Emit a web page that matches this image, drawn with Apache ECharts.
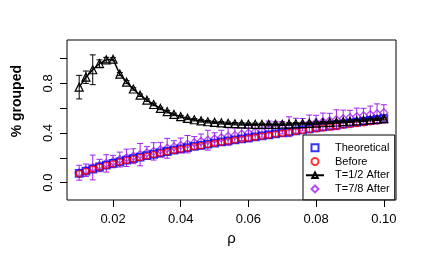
<!DOCTYPE html>
<html>
<head>
<meta charset="utf-8">
<script src="https://cdn.jsdelivr.net/npm/echarts@6/dist/echarts.min.js"></script>
<style>html,body{margin:0;padding:0;background:#fff}#c{width:436px;height:269px}</style>
</head>
<body>
<div id="c"></div>
<script>
const rho = [0.010,0.012,0.014,0.016,0.018,0.020,0.022,0.024,0.026,0.028,0.030,0.032,0.034,0.036,0.038,0.040,0.042,0.044,0.046,0.048,0.050,0.052,0.054,0.056,0.058,0.060,0.062,0.064,0.066,0.068,0.070,0.072,0.074,0.076,0.078,0.080,0.082,0.084,0.086,0.088,0.090,0.092,0.094,0.096,0.098,0.100];
const theoretical = [0.075,0.093,0.110,0.126,0.141,0.155,0.168,0.181,0.193,0.205,0.217,0.229,0.240,0.251,0.262,0.272,0.282,0.292,0.301,0.310,0.319,0.328,0.337,0.345,0.353,0.361,0.369,0.377,0.385,0.393,0.401,0.409,0.417,0.425,0.433,0.441,0.449,0.456,0.464,0.471,0.479,0.486,0.493,0.501,0.508,0.515];
const before = [0.072,0.091,0.108,0.125,0.139,0.152,0.167,0.179,0.190,0.203,0.214,0.227,0.238,0.249,0.259,0.270,0.279,0.290,0.298,0.308,0.316,0.326,0.334,0.343,0.350,0.359,0.366,0.375,0.382,0.391,0.398,0.406,0.412,0.420,0.426,0.434,0.440,0.447,0.453,0.462,0.468,0.476,0.483,0.490,0.497,0.505];
const halfAfter = [0.770,0.850,0.910,0.960,0.990,0.995,0.875,0.810,0.755,0.705,0.665,0.630,0.598,0.572,0.550,0.532,0.518,0.507,0.498,0.491,0.486,0.482,0.478,0.475,0.473,0.471,0.470,0.469,0.469,0.470,0.471,0.472,0.474,0.476,0.478,0.480,0.483,0.486,0.489,0.492,0.495,0.499,0.503,0.507,0.511,0.516];
const halfAfterErr = [0.095,0.050,0.120,0.030,0.020,0.012,0.012,0.012,0.010,0.010,0.010,0.010,0.010,0.010,0.010,0.010,0.010,0.010,0.010,0.010,0.010,0.010,0.010,0.010,0.010,0.010,0.010,0.010,0.010,0.010,0.010,0.010,0.010,0.010,0.010,0.010,0.010,0.010,0.010,0.010,0.010,0.010,0.010,0.010,0.010,0.010];
const sevenAfter = [0.080,0.100,0.122,0.138,0.155,0.170,0.186,0.200,0.213,0.226,0.240,0.252,0.265,0.277,0.288,0.300,0.310,0.321,0.332,0.342,0.352,0.362,0.372,0.381,0.390,0.399,0.408,0.417,0.426,0.434,0.443,0.451,0.459,0.467,0.475,0.483,0.491,0.499,0.507,0.515,0.523,0.531,0.539,0.547,0.555,0.563];
const sevenAfterErr = [0.060,0.050,0.100,0.050,0.070,0.050,0.060,0.070,0.060,0.090,0.050,0.070,0.060,0.080,0.050,0.060,0.070,0.050,0.060,0.080,0.050,0.060,0.070,0.060,0.050,0.070,0.060,0.050,0.070,0.060,0.050,0.080,0.060,0.050,0.070,0.060,0.070,0.060,0.080,0.070,0.060,0.070,0.060,0.070,0.080,0.065];
const xTicks = [0.02,0.04,0.06,0.08,0.10];
const yTicks = [0,0.2,0.4,0.6,0.8,1.0];
const yLabels = [0,0.4,0.8];
const names = ['Theoretical','Before','T=1/2 After','T=7/8 After'];

const FONT = '"Liberation Sans", Arial, Helvetica, sans-serif';
const BLUE = '#0000FF', RED = '#FF0000', PURPLE = '#A020F0', BLACK = '#000000';

function pts(ys){ return rho.map((x,i)=>[x, ys[i]]); }
function errs(ys, e){ return rho.map((x,i)=>[x, ys[i]-e[i], ys[i]+e[i]]); }
function errRender(color){
  return function(params, api){
    const lo = api.coord([api.value(0), api.value(1)]);
    const hi = api.coord([api.value(0), api.value(2)]);
    const w = 3;
    const st = {stroke: color, lineWidth: 1};
    return {type:'group', children:[
      {type:'line', shape:{x1:lo[0], y1:lo[1], x2:hi[0], y2:hi[1]}, style:st},
      {type:'line', shape:{x1:lo[0]-w, y1:lo[1], x2:lo[0]+w, y2:lo[1]}, style:st},
      {type:'line', shape:{x1:hi[0]-w, y1:hi[1], x2:hi[0]+w, y2:hi[1]}, style:st}
    ]};
  };
}

const ICON_SQUARE = 'path://M0,0L10,0L10,10L0,10Z';
const ICON_CIRCLE = 'path://M5,0A5,5,0,1,1,5,10A5,5,0,1,1,5,0Z';
const ICON_DIAMOND = 'path://M5,0L10,5L5,10L0,5Z';

const chart = echarts.init(document.getElementById('c'));
chart.setOption({
  animation: false,
  backgroundColor: '#fff',
  textStyle: {fontFamily: FONT},
  grid: {left: 67, right: 40, top: 40, bottom: 69, show: true, borderColor: BLACK, borderWidth: 1, backgroundColor: 'transparent'},
  xAxis: {
    type: 'value', min: 0.0064, max: 0.1036,
    name: 'ρ', nameLocation: 'middle', nameGap: 28,
    nameTextStyle: {fontSize: 15, color: BLACK, fontFamily: FONT},
    axisLine: {show: false, onZero: false},
    axisTick: {show: true, length: 7, lineStyle: {color: BLACK}, customValues: xTicks},
    axisLabel: {fontSize: 13, color: BLACK, margin: 13, customValues: xTicks, formatter: v => v.toFixed(2), fontFamily: FONT},
    splitLine: {show: false}
  },
  yAxis: {
    type: 'value', min: -0.14, max: 1.15,
    axisLine: {show: false, onZero: false},
    axisTick: {show: true, length: 7, lineStyle: {color: BLACK}, customValues: yTicks},
    axisLabel: {fontSize: 13, color: BLACK, margin: 12, rotate: 90, customValues: yLabels, formatter: v => v.toFixed(1), fontFamily: FONT},
    splitLine: {show: false}
  },
  legend: {
    data: [
      {name: names[0], icon: ICON_SQUARE},
      {name: names[1], icon: ICON_CIRCLE},
      {name: names[2]},
      {name: names[3], icon: ICON_DIAMOND}
    ],
    orient: 'vertical',
    left: 303, top: 135,
    padding: [6, 5, 4, 2],
    itemGap: 0,
    itemWidth: 18, itemHeight: 7,
    symbolKeepAspect: true,
    backgroundColor: '#fff', borderColor: BLACK, borderWidth: 1, borderRadius: 0,
    textStyle: {fontSize: 11, color: BLACK, lineHeight: 13.7, fontFamily: FONT, padding: [0,0,0,6]},
    selectedMode: false
  },
  graphic: [
    {type: 'text', left: 10, top: 65, rotation: Math.PI/2,
     style: {text: '% grouped', font: 'bold 14px ' + FONT, fill: BLACK}, z: 10}
  ],
  series: [
    {type: 'custom', name: 'e78', data: errs(sevenAfter, sevenAfterErr), renderItem: errRender(PURPLE), encode: {x: 0, y: [1, 2]}, z: 2, silent: true},
    {type: 'scatter', name: names[3], data: pts(sevenAfter), symbol: 'diamond', symbolSize: 8,
     itemStyle: {color: 'rgba(0,0,0,0)', borderColor: PURPLE, borderWidth: 1.3}, z: 3},
    {type: 'scatter', name: names[0], data: pts(theoretical), symbol: 'rect', symbolSize: 7,
     itemStyle: {color: 'rgba(0,0,0,0)', borderColor: BLUE, borderWidth: 1.8}, z: 4},
    {type: 'scatter', name: names[1], data: pts(before), symbol: 'circle', symbolSize: 6,
     itemStyle: {color: 'rgba(0,0,0,0)', borderColor: RED, borderWidth: 1.3}, z: 5},
    {type: 'custom', name: 'e12', data: errs(halfAfter, halfAfterErr), renderItem: errRender(BLACK), encode: {x: 0, y: [1, 2]}, z: 6, silent: true},
    {type: 'line', name: names[2], data: pts(halfAfter), symbol: 'triangle', symbolSize: 8, showAllSymbol: true,
     lineStyle: {color: BLACK, width: 1.5}, itemStyle: {color: 'rgba(0,0,0,0)', borderColor: BLACK, borderWidth: 1.2}, z: 7}
  ]
});
</script>
</body>
</html>
